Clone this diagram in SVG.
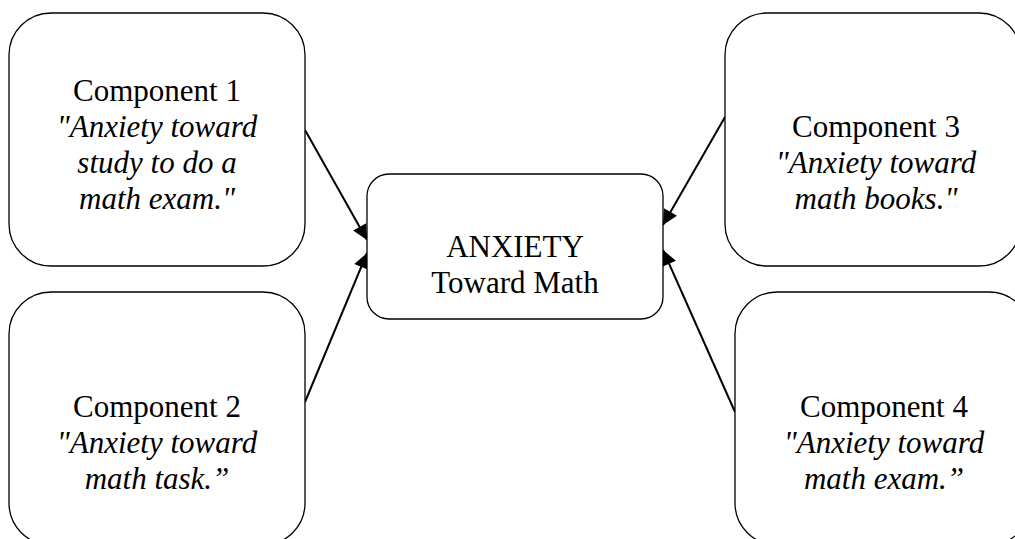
<svg xmlns="http://www.w3.org/2000/svg" width="1015" height="539" viewBox="0 0 1015 539">
<style>
.box{fill:#fff;stroke:#000;stroke-width:1.3}
.t{font-family:'Liberation Serif','Times New Roman',serif;font-size:31px;fill:#000;text-anchor:middle}
.i{font-style:italic}
.c{stroke:#000;stroke-width:2;fill:none;marker-end:url(#ah)}
</style>
<defs>
<marker id="ah" viewBox="0 0 10 10" refX="10" refY="5" markerWidth="9" markerHeight="7.5" markerUnits="strokeWidth" orient="auto">
<path d="M0,0 L10,5 L0,10 z" fill="#000"/>
</marker>
</defs>
<g id="connectors">
<line class="c" x1="305" y1="130" x2="367" y2="240"/>
<line class="c" x1="305" y1="402" x2="367" y2="253"/>
<line class="c" x1="725" y1="117" x2="663" y2="225"/>
<line class="c" x1="735" y1="412" x2="663" y2="250"/>
</g>
<g id="center">
<rect class="box" x="367" y="174" width="296" height="145" rx="22"/>
<text class="t" x="515" y="257">ANXIETY</text>
<text class="t" x="515" y="293">Toward Math</text>
</g>
<g id="comp1">
<rect class="box" x="9" y="13" width="296" height="253" rx="42"/>
<text class="t" x="157" y="101">Component 1</text>
<text class="t i" x="157" y="137">"Anxiety toward</text>
<text class="t i" x="157" y="173">study to do a</text>
<text class="t i" x="157" y="209">math exam."</text>
</g>
<g id="comp2">
<rect class="box" x="9" y="292" width="296" height="253" rx="42"/>
<text class="t" x="157" y="417">Component 2</text>
<text class="t i" x="157" y="453">"Anxiety toward</text>
<text class="t i" x="157" y="489">math task.”</text>
</g>
<g id="comp3">
<rect class="box" x="725" y="13" width="296" height="253" rx="42"/>
<text class="t" x="876" y="137">Component 3</text>
<text class="t i" x="876" y="173">"Anxiety toward</text>
<text class="t i" x="876" y="209">math books."</text>
</g>
<g id="comp4">
<rect class="box" x="735" y="292" width="296" height="253" rx="42"/>
<text class="t" x="884" y="417">Component 4</text>
<text class="t i" x="884" y="453">"Anxiety toward</text>
<text class="t i" x="884" y="489">math exam.”</text>
</g>
</svg>
